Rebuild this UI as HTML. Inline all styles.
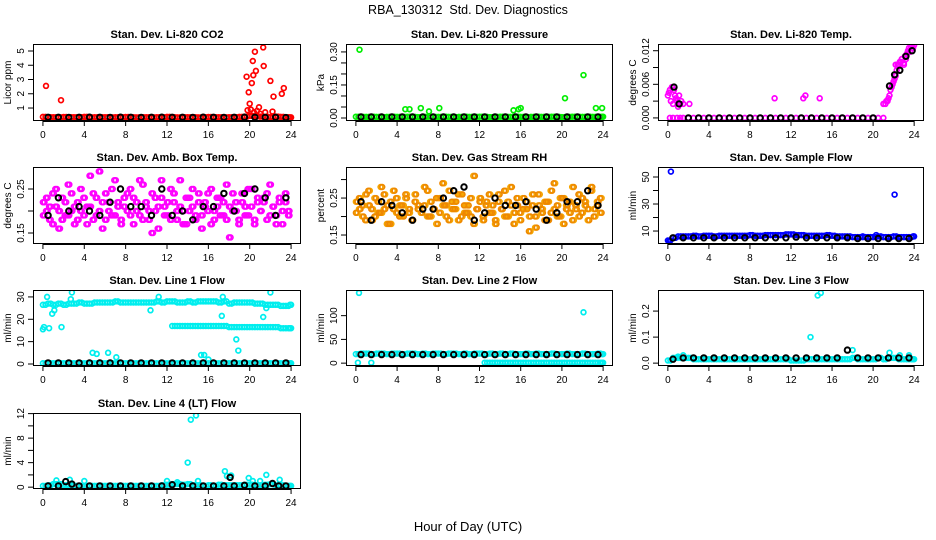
<!DOCTYPE html>
<html><head><meta charset="utf-8"><title>RBA_130312 Std. Dev. Diagnostics</title>
<style>
html,body{margin:0;padding:0;background:#fff;}
svg{display:block;font-family:"Liberation Sans",Arial,sans-serif;}
.pt{font-weight:bold;font-size:11px;}
.tk{font-size:10px;}
</style></head>
<body>
<svg id="chart" width="936" height="540" viewBox="0 0 936 540" xmlns="http://www.w3.org/2000/svg">
<text x="468" y="14" text-anchor="middle" font-size="12.5">RBA_130312&#160;&#160;Std. Dev. Diagnostics</text>
<text x="468" y="531" text-anchor="middle" font-size="13">Hour of Day (UTC)</text>
</svg>
<script>
// ---- shared time arrays (hours) ----
const T48=[0,0.5,1,1.5,2,2.5,3,3.5,4,4.5,5,5.5,6,6.5,7,7.5,8,8.5,9,9.5,10,10.5,11,11.5,12,12.5,13,13.5,14,14.5,15,15.5,16,16.5,17,17.5,18,18.5,19,19.5,20,20.5,21,21.5,22,22.5,23,23.5,24];
const T48B=[0.25,0.75,1.25,1.75,2.25,2.75,3.25,3.75,4.25,4.75,5.25,5.75,6.25,6.75,7.25,7.75,8.25,8.75,9.25,9.75,10.25,10.75,11.25,11.75,12.25,12.75,13.25,13.75,14.25,14.75,15.25,15.75,16.25,16.75,17.25,17.75,18.25,18.75,19.25,19.75,20.25,20.75,21.25,21.75,22.25,22.75,23.25,23.75,23.9];
const T24=[0.5,1.5,2.5,3.5,4.5,5.5,6.5,7.5,8.5,9.5,10.5,11.5,12.5,13.5,14.5,15.5,16.5,17.5,18.5,19.5,20.5,21.5,22.5,23.5];
const T24B=[12.5,13,13.5,14,14.5,15,15.5,16,16.5,17,17.5,18,18.5,19,19.5,20,20.5,21,21.5,22,22.5,23,23.5,24];
const T24C=[12.75,13.25,13.75,14.25,14.75,15.25,15.75,16.25,16.75,17.25,17.75,18.25,18.75,19.25,19.75,20.25,20.75,21.25,21.75,22.25,22.75,23.25,23.75,23.9];
const T80=[0,0.3,0.6,0.9,1.2,1.5,1.8,2.1,2.4,2.7,3,3.3,3.6,3.9,4.2,4.5,4.8,5.1,5.4,5.7,6,6.3,6.6,6.9,7.2,7.5,7.8,8.1,8.4,8.7,9,9.3,9.6,9.9,10.2,10.5,10.8,11.1,11.4,11.7,12,12.3,12.6,12.9,13.2,13.5,13.8,14.1,14.4,14.7,15,15.3,15.6,15.9,16.2,16.5,16.8,17.1,17.4,17.7,18,18.3,18.6,18.9,19.2,19.5,19.8,20.1,20.4,20.7,21,21.3,21.6,21.9,22.2,22.5,22.8,23.1,23.4,23.7];
const T80B=[0.15,0.45,0.75,1.05,1.35,1.65,1.95,2.25,2.55,2.85,3.15,3.45,3.75,4.05,4.35,4.65,4.95,5.25,5.55,5.85,6.15,6.45,6.75,7.05,7.35,7.65,7.95,8.25,8.55,8.85,9.15,9.45,9.75,10.05,10.35,10.65,10.95,11.25,11.55,11.85,12.15,12.45,12.75,13.05,13.35,13.65,13.95,14.25,14.55,14.85,15.15,15.45,15.75,16.05,16.35,16.65,16.95,17.25,17.55,17.85,18.15,18.45,18.75,19.05,19.35,19.65,19.95,20.25,20.55,20.85,21.15,21.45,21.75,22.05,22.35,22.65,22.95,23.25,23.55,23.85];

// ---- Panel 1: CO2 ----
const co2Base=[0.38,0.35,0.36,0.34,0.37,0.35,0.36,0.35,0.38,0.34,0.35,0.36,0.35,0.34,0.36,0.35,0.37,0.35,0.34,0.36,0.35,0.34,0.36,0.35,0.38,0.35,0.34,0.36,0.35,0.36,0.34,0.35,0.37,0.35,0.36,0.34,0.35,0.36,0.38,0.40,0.45,0.42,0.40,0.38,0.36,0.40,0.38,0.35,0.34];
const co2OutT=[0.3,1.75,19.7,19.9,20.0,20.2,20.3,20.35,20.5,20.6,20.9,21.3,21.35,22.0,22.3,23.1,23.3,19.8,20.1,20.4,21.5,22.2,20.7,21.0];
const co2OutV=[2.55,1.55,3.2,2.1,1.3,2.75,4.3,3.3,4.95,3.6,1.05,5.25,3.95,2.9,1.8,2.0,2.4,0.85,0.9,0.7,0.7,0.75,0.8,0.6];
const co2Black=[0.35,0.35,0.34,0.35,0.36,0.35,0.34,0.36,0.35,0.34,0.35,0.36,0.35,0.35,0.34,0.36,0.35,0.34,0.35,0.36,0.35,0.34,0.35,0.33];
// ---- Panel 2: Pressure ----
const prBase=[0.006,0.005,0.005,0.006,0.005,0.004,0.005,0.006,0.005,0.005,0.006,0.005,0.004,0.005,0.006,0.005,0.005,0.006,0.005,0.004,0.005,0.006,0.005,0.005,0.006,0.005,0.004,0.005,0.006,0.005,0.005,0.006,0.005,0.004,0.005,0.006,0.005,0.005,0.006,0.005,0.004,0.005,0.006,0.005,0.005,0.006,0.005,0.005,0.006];
const prOutT=[0.35,4.8,5.2,6.3,7.1,8.1,15.3,15.8,16.0,20.3,22.1,23.3,23.9];
const prOutV=[0.31,0.04,0.04,0.045,0.03,0.045,0.035,0.04,0.045,0.09,0.195,0.045,0.045];
const prBlack=[0.005,0.005,0.005,0.005,0.005,0.005,0.005,0.005,0.005,0.005,0.005,0.005,0.005,0.005,0.005,0.005,0.005,0.005,0.005,0.005,0.005,0.005,0.005,0.005];
// ---- Panel 3: Temp ----
const tmBaseT=[1.5,2,2.5,3,3.5,4,4.5,5,5.5,6,6.5,7,7.5,8,8.5,9,9.5,10,10.5,11,11.5,12,12.5,13,13.5,14,14.5,15,15.5,16,16.5,17,17.5,18,18.5,19,19.5,20,20.5,21];
const tmBaseV=[0,0,0,0,0,0,0,0,0,0,0,0,0,0,0,0,0,0,0,0,0,0,0,0,0,0,0,0,0,0,0,0,0,0,0,0,0,0,0,0];
const tmOutT=[0,0.1,0.2,0.3,0.4,0.5,0.6,0.7,0.8,0.9,1.0,1.1,1.2,1.3,1.5,2.1,0.2,0.5,0.9,1.2,10.4,13.2,13.4,14.8,21.0,21.2,21.3,21.4,21.5,21.6,21.7,21.8,21.9,22.0,22.1,22.2,22.3,22.4,22.5,22.6,22.8,23.0,23.1,23.2,23.3,23.4,23.5,23.6,23.7,23.8,23.9,24.0,22.2,22.7,23.0];
const tmOutV=[0.004,0.0045,0.005,0.003,0.0055,0.0025,0.005,0.004,0.0035,0.003,0.002,0.004,0.0025,0.003,0.0025,0.0025,0,0,0,0,0.0035,0.0035,0.004,0.0035,0.0025,0.0025,0.003,0.003,0.0035,0.004,0.005,0.0055,0.006,0.0065,0.007,0.0075,0.0085,0.0095,0.0095,0.010,0.0105,0.0098,0.011,0.0105,0.0115,0.012,0.0125,0.0118,0.0128,0.013,0.0125,0.013,0.0095,0.010,0.0095];
const tmBlackT=[0.6,1.1,2,3,4,5,6,7,8,9,10,11,12,13,14,15,16,17,18,19,20,21.6,22.1,22.6,23.2,23.8];
const tmBlackV=[0.0055,0.0025,0,0,0,0,0,0,0,0,0,0,0,0,0,0,0,0,0,0,0,0.0057,0.0077,0.0085,0.011,0.012];
// ---- Panel 4: Amb box temp ----
const ambA=[0.22,0.20,0.18,0.24,0.21,0.16,0.23,0.19,0.26,0.20,0.17,0.22,0.25,0.19,0.21,0.28,0.18,0.23,0.20,0.16,0.24,0.22,0.19,0.27,0.21,0.18,0.23,0.20,0.25,0.17,0.22,0.19,0.26,0.21,0.18,0.24,0.20,0.16,0.23,0.21,0.19,0.25,0.22,0.18,0.27,0.20,0.17,0.23,0.21,0.19,0.24,0.16,0.22,0.20,0.25,0.18,0.21,0.23,0.19,0.26,0.14,0.20,0.22,0.18,0.24,0.21,0.19,0.25,0.17,0.22,0.20,0.23,0.18,0.26,0.21,0.19,0.22,0.17,0.24,0.20];
const ambB=[0.19,0.23,0.21,0.17,0.25,0.20,0.18,0.22,0.19,0.24,0.21,0.18,0.20,0.23,0.17,0.21,0.24,0.19,0.29,0.22,0.18,0.20,0.25,0.19,0.22,0.17,0.21,0.24,0.19,0.23,0.20,0.27,0.18,0.22,0.20,0.15,0.23,0.21,0.27,0.19,0.22,0.18,0.24,0.20,0.21,0.17,0.23,0.20,0.25,0.18,0.22,0.19,0.21,0.24,0.17,0.20,0.23,0.19,0.22,0.18,0.21,0.24,0.20,0.17,0.22,0.19,0.25,0.21,0.18,0.23,0.20,0.22,0.24,0.19,0.21,0.17,0.23,0.20,0.22,0.19];
const ambBlack=[0.19,0.23,0.20,0.21,0.20,0.19,0.22,0.25,0.21,0.21,0.19,0.25,0.19,0.20,0.18,0.21,0.21,0.24,0.20,0.24,0.25,0.23,0.19,0.23];
// ---- Panel 5: Gas stream RH ----
const rhA=[0.24,0.22,0.20,0.26,0.23,0.19,0.25,0.21,0.28,0.22,0.18,0.24,0.27,0.21,0.23,0.20,0.25,0.22,0.19,0.26,0.23,0.21,0.28,0.20,0.24,0.22,0.18,0.25,0.23,0.20,0.27,0.22,0.24,0.19,0.26,0.21,0.23,0.20,0.31,0.22,0.25,0.19,0.24,0.21,0.23,0.18,0.26,0.22,0.20,0.24,0.28,0.21,0.23,0.19,0.25,0.22,0.20,0.26,0.17,0.23,0.21,0.24,0.19,0.27,0.22,0.20,0.25,0.18,0.23,0.21,0.28,0.22,0.20,0.25,0.23,0.19,0.28,0.22,0.24,0.21];
const rhB=[0.21,0.25,0.23,0.19,0.27,0.22,0.20,0.24,0.21,0.26,0.23,0.18,0.22,0.25,0.20,0.23,0.26,0.21,0.19,0.24,0.22,0.12,0.23,0.27,0.20,0.22,0.25,0.21,0.29,0.23,0.19,0.24,0.22,0.26,0.20,0.23,0.21,0.25,0.18,0.22,0.24,0.20,0.23,0.26,0.21,0.19,0.24,0.22,0.27,0.20,0.23,0.18,0.25,0.21,0.22,0.24,0.16,0.23,0.20,0.26,0.22,0.19,0.24,0.21,0.29,0.23,0.20,0.25,0.22,0.24,0.19,0.23,0.26,0.21,0.24,0.22,0.27,0.20,0.23,0.25];
const rhBlack=[0.24,0.19,0.24,0.23,0.21,0.19,0.22,0.22,0.25,0.27,0.28,0.19,0.21,0.25,0.23,0.23,0.24,0.22,0.19,0.21,0.24,0.24,0.27,0.23];
// ---- Panel 6: Sample flow ----
const sfBase=[3,5,6,6,6,6.5,6,6.5,6.5,6,6.5,6.5,6.5,6.5,6.5,6.5,7,6.5,6.5,7,7,7,7,7.5,7.5,7,7,6.5,6.5,6.5,6.5,7,6.5,6,6,6,5.5,5.5,5.5,5.5,5.5,6,5.5,5.5,6,5.5,5.5,5.5,6];
const sfOutT=[0.3,22.1,0.1,0.2,20.3,19.0];
const sfOutV=[54,37,2,3,7,6];
const sfBlack=[5,5,5,5,5,5,5,5,5,5,5,5,5.5,5,5,5,5,5,4.5,4.5,4.5,4.5,4.5,4.5];
// ---- Panel 7: Line 1 flow ----
const l1Main=[26.5,27,26.5,27,26.5,27,27,27.5,27,27,27.5,27.5,27.5,27.5,28,27.5,27.5,27.5,27.5,27.5,27.5,27.5,28,27.5,28,28,27.5,27.5,28,27.5,28,28,28,28,27.5,28,27,27.5,27.5,27.5,27.5,27,27,26.5,26.5,26.5,26,26,26.5];
const l1Low=[17,17,17,17,17,17,17,17,17,17,17,16.5,16.5,16.5,16.5,16.5,16.5,16.5,16.5,16.5,16.5,16,16,16];
const l1Zero=[0.3,0.3,0.3,0.3,0.3,0.3,0.3,0.3,0.3,0.3,0.3,0.3,0.3,0.3,0.3,0.3,0.3,0.3,0.3,0.3,0.3,0.3,0.3,0.3,0.3,0.3,0.3,0.3,0.3,0.3,0.3,0.3,0.3,0.3,0.3,0.3,0.3,0.3,0.3,0.3,0.3,0.3,0.3,0.3,0.3,0.3,0.3,0.3,0.3];
const l1OutT=[0,0.1,0.4,0.6,0.9,1.1,1.8,2.8,2.7,4.8,5.2,6.3,7.1,10.4,11.2,15.3,15.6,17.3,17.4,18.7,18.9,21.3,22.0,21.6,16.0];
const l1OutV=[15.5,16.5,30,16,22.5,24,16.5,32,29,5,4.5,5,3,24,30,4,4,21.5,30,11,6,21,32,25,2];
const l1Black=[0.5,0.5,0.5,0.5,0.5,0.5,0.5,0.5,0.5,0.5,0.5,0.5,0.5,0.5,0.5,0.5,0.5,0.5,0.5,0.5,0.5,0.5,0.5,0.5];
// ---- Panel 8: Line 2 flow ----
const l2Main=[19,20,20,19,20,20,19,20,20,19,20,20,19,20,19,20,20,19,20,20,19,20,19,20,20,19,20,19,20,19,20,19,19,20,19,20,19,19,20,19,19,20,19,19,20,19,19,20,19];
const l2Zero=[1,1,1,1,1,1,1,1,1,1,1,1,1,1,1,1,1,1,1,1,1,1,1,1];
const l2OutT=[0.3,22.1,0.2,1.5];
const l2OutV=[148,107,1,1];
const l2Black=[18,18,18,18,18,18,18,18,18,18,18,18,18,18,18,18,18,18,18,18,18,18,18,18];
// ---- Panel 9: Line 3 flow ----
const l3Base=[0.01,0.02,0.02,0.02,0.02,0.015,0.015,0.015,0.015,0.015,0.015,0.015,0.015,0.015,0.015,0.015,0.015,0.015,0.015,0.015,0.015,0.015,0.015,0.015,0.01,0.01,0.01,0.015,0.015,0.015,0.015,0.015,0.015,0.015,0.015,0.015,0.02,0.015,0.015,0.015,0.015,0.02,0.015,0.02,0.02,0.015,0.015,0.015,0.015];
const l3OutT=[13.9,14.6,14.9,18,1.5,21.6,1.0,0.5,22.6,23.5];
const l3OutV=[0.1,0.26,0.27,0.05,0.03,0.04,0.025,0.015,0.03,0.03];
const l3Black=[0.015,0.02,0.02,0.02,0.02,0.02,0.02,0.02,0.02,0.02,0.02,0.02,0.02,0.02,0.02,0.02,0.02,0.05,0.02,0.02,0.02,0.02,0.02,0.02];
// ---- Panel 10: Line 4 flow ----
const l4Base=[0.2,0.3,0.5,0.5,0.3,0.3,0.2,0.2,0.2,0.2,0.2,0.2,0.2,0.2,0.2,0.2,0.2,0.2,0.2,0.2,0.2,0.2,0.2,0.3,0.4,0.5,0.5,0.4,0.5,0.3,0.3,0.2,0.3,0.2,0.4,0.3,0.3,0.3,0.3,0.4,0.4,0.3,0.3,0.4,0.5,0.3,0.3,0.2,0.2];
const l4OutT=[14,14.3,14.8,17.6,17.8,18.2,21.6,22.9,19.9,1.3,4,2.6,12,15,20.3,21,13.0];
const l4OutV=[4,11,11.7,2.6,1.8,1.9,2.0,1.2,1.5,1.1,1.0,1.2,1.0,1.0,1.0,1.0,0.8];
const l4BlackT=[0.5,1.5,2.2,2.8,3.5,4.5,5.5,6.5,7.5,8.5,9.5,10.5,11.5,12.5,13.5,14.5,15.5,16.5,17.5,18.1,18.5,19.5,20.5,21.5,22.2,22.8,23.5];
const l4BlackV=[0.2,0.2,0.9,0.5,0.2,0.2,0.2,0.2,0.2,0.2,0.2,0.2,0.2,0.4,0.2,0.2,0.2,0.2,0.2,1.6,0.2,0.3,0.2,0.2,0.6,0.2,0.2];

// ---- layout ----
const NS='http://www.w3.org/2000/svg';
const svg=document.getElementById('chart');
const COLS=[[33,301],[346,613],[658,924]];
const ROWS=[[44,121],[167,244],[290,366],[413,489]];
const XD=[-0.96,24.96];
const XT=[0,4,8,12,16,20,24];

const panels=[
 {name:'co2',title:'Stan. Dev. Li-820 CO2',ylab:'Licor ppm',col:0,row:0,yd:[0.09,5.49],yt:[1,2,3,4,5],yl:['1','2','3','4','5'],
  s:[{t:T48,v:co2Base,c:'#ff0000'},{t:T48B,v:co2Base,c:'#ff0000'},{t:co2OutT,v:co2OutV,c:'#ff0000'},{t:T24,v:co2Black,c:'#000'}]},
 {name:'pressure',title:'Stan. Dev. Li-820 Pressure',ylab:'kPa',col:1,row:0,yd:[-0.0136,0.336],yt:[0,0.05,0.1,0.15,0.2,0.25,0.3],yl:['0.00','','','0.15','','','0.30'],
  s:[{t:T48,v:prBase,c:'#00ee00'},{t:T48B,v:prBase,c:'#00ee00'},{t:prOutT,v:prOutV,c:'#00ee00'},{t:T24,v:prBlack,c:'#000'}]},
 {name:'temp',title:'Stan. Dev. Li-820 Temp.',ylab:'degrees C',col:2,row:0,yd:[-0.00055,0.0132],yt:[0,0.003,0.006,0.009,0.012],yl:['0.000','','0.006','','0.012'],
  s:[{t:tmBaseT,v:tmBaseV,c:'#ff00ff'},{t:tmOutT,v:tmOutV,c:'#ff00ff'},{t:tmBlackT,v:tmBlackV,c:'#000'}]},
 {name:'amb-temp',title:'Stan. Dev. Amb. Box Temp.',ylab:'degrees C',col:0,row:1,yd:[0.125,0.30],yt:[0.15,0.2,0.25],yl:['0.15','','0.25'],
  s:[{t:T80,v:ambA,c:'#ff00ff'},{t:T80B,v:ambB,c:'#ff00ff'},{t:T80B,v:ambA,c:'#ff00ff'},{t:T80,v:ambB,c:'#ff00ff'},{t:T24,v:ambBlack,c:'#000'}]},
 {name:'rh',title:'Stan. Dev. Gas Stream RH',ylab:'percent',col:1,row:1,yd:[0.1257,0.334],yt:[0.15,0.2,0.25,0.3],yl:['0.15','','0.25',''],
  s:[{t:T80,v:rhA,c:'#f5a500'},{t:T80B,v:rhB,c:'#f5a500'},{t:T80B,v:rhA,c:'#ee8800'},{t:T80,v:rhB,c:'#ee8800'},{t:T24,v:rhBlack,c:'#000'}]},
 {name:'sample-flow',title:'Stan. Dev. Sample Flow',ylab:'ml/min',col:2,row:1,yd:[0.4,57.4],yt:[10,20,30,40,50],yl:['10','','30','','50'],
  s:[{t:T48,v:sfBase,c:'#0000ff'},{t:T48B,v:sfBase,c:'#0000ff'},{t:sfOutT,v:sfOutV,c:'#0000ff'},{t:T24,v:sfBlack,c:'#000'}]},
 {name:'line1-flow',title:'Stan. Dev. Line 1 Flow',ylab:'ml/min',col:0,row:2,yd:[-0.9,33.1],yt:[0,10,20,30],yl:['0','10','20','30'],
  s:[{t:T48,v:l1Main,c:'#00eeee'},{t:T48B,v:l1Main,c:'#00eeee'},{t:T24B,v:l1Low,c:'#00eeee'},{t:T24C,v:l1Low,c:'#00eeee'},{t:T48,v:l1Zero,c:'#00eeee'},{t:T48B,v:l1Zero,c:'#00eeee'},{t:l1OutT,v:l1OutV,c:'#00eeee'},{t:T24,v:l1Black,c:'#000'}]},
 {name:'line2-flow',title:'Stan. Dev. Line 2 Flow',ylab:'ml/min',col:1,row:2,yd:[-6,154],yt:[0,50,100],yl:['0','50','100'],
  s:[{t:T48,v:l2Main,c:'#00eeee'},{t:T48B,v:l2Main,c:'#00eeee'},{t:T24B,v:l2Zero,c:'#00eeee'},{t:T24C,v:l2Zero,c:'#00eeee'},{t:l2OutT,v:l2OutV,c:'#00eeee'},{t:T24,v:l2Black,c:'#000'}]},
 {name:'line3-flow',title:'Stan. Dev. Line 3 Flow',ylab:'ml/min',col:2,row:2,yd:[-0.011,0.281],yt:[0,0.1,0.2],yl:['0.0','0.1','0.2'],
  s:[{t:T48,v:l3Base,c:'#00eeee'},{t:T48B,v:l3Base,c:'#00eeee'},{t:l3OutT,v:l3OutV,c:'#00eeee'},{t:T24,v:l3Black,c:'#000'}]},
 {name:'line4-flow',title:'Stan. Dev. Line 4 (LT) Flow',ylab:'ml/min',col:0,row:3,yd:[-0.3,12.1],yt:[0,2,4,6,8,10,12],yl:['0','','4','','8','','12'],
  s:[{t:T48,v:l4Base,c:'#00eeee'},{t:T48B,v:l4Base,c:'#00eeee'},{t:l4OutT,v:l4OutV,c:'#00eeee'},{t:l4BlackT,v:l4BlackV,c:'#000'}]}
];

function mk(tag,attrs,parent){const e=document.createElementNS(NS,tag);for(const k in attrs)e.setAttribute(k,attrs[k]);(parent||svg).appendChild(e);return e;}

panels.forEach(p=>{
 const [x0,x1]=COLS[p.col],[y0,y1]=ROWS[p.row];
 const sx=v=>x0+(v-XD[0])/(XD[1]-XD[0])*(x1-x0);
 const sy=v=>y1-(v-p.yd[0])/(p.yd[1]-p.yd[0])*(y1-y0);
 const g=mk('g',{});
 
 
 const t=mk('text',{x:(x0+x1)/2,y:y0-6,'text-anchor':'middle',class:'pt'},g);t.textContent=p.title;
 
 
 const clip='clip-'+p.name;
 const cp=mk('clipPath',{id:clip},g);mk('rect',{x:x0,y:y0,width:x1-x0,height:y1-y0},cp);
 const pg=mk('g',{'clip-path':'url(#'+clip+')'},g);
 
 
 p.s.forEach(s=>{
  const black=s.c==='#000';
  s.t.forEach((tv,i)=>{
   const c=mk('circle',{cx:sx(tv).toFixed(1),cy:sy(s.v[i]).toFixed(1),r:black?2.7:2.4,fill:'none',stroke:s.c,'stroke-width':black?2:1.7},pg);
   
   
  });
 });
 const box=mk('rect',{x:x0+0.5,y:y0+0.5,width:x1-x0-1,height:y1-y0-1,fill:'none',stroke:'#000','stroke-width':1},g);
 
 
 const xa=mk('g',{},g);
 
 
 mk('line',{x1:sx(0),x2:sx(24),y1:y1+0.5,y2:y1+0.5,stroke:'#000'},xa);
 XT.forEach(v=>{
  mk('line',{x1:sx(v),x2:sx(v),y1:y1,y2:y1+5,stroke:'#000'},xa);
  const tt=mk('text',{x:sx(v),y:y1+17,'text-anchor':'middle',class:'tk'},xa);tt.textContent=v;
 });
 const ya=mk('g',{},g);
 
 
 mk('line',{x1:x0+0.5,x2:x0+0.5,y1:sy(p.yt[0]),y2:sy(p.yt[p.yt.length-1]),stroke:'#000'},ya);
 p.yt.forEach((v,i)=>{
  const yy=sy(v);
  mk('line',{x1:x0-5,x2:x0,y1:yy,y2:yy,stroke:'#000'},ya);
  if(p.yl[i]){const tt=mk('text',{x:x0-9,y:yy,'text-anchor':'middle',class:'tk',transform:'rotate(-90 '+(x0-9)+' '+yy+')'},ya);tt.textContent=p.yl[i];}
 });
 const yl=mk('text',{x:x0-22,y:(y0+y1)/2,'text-anchor':'middle',class:'tk',transform:'rotate(-90 '+(x0-22)+' '+((y0+y1)/2)+')'},g);
 yl.textContent=p.ylab;
 
 
});
</script>
</body></html>
